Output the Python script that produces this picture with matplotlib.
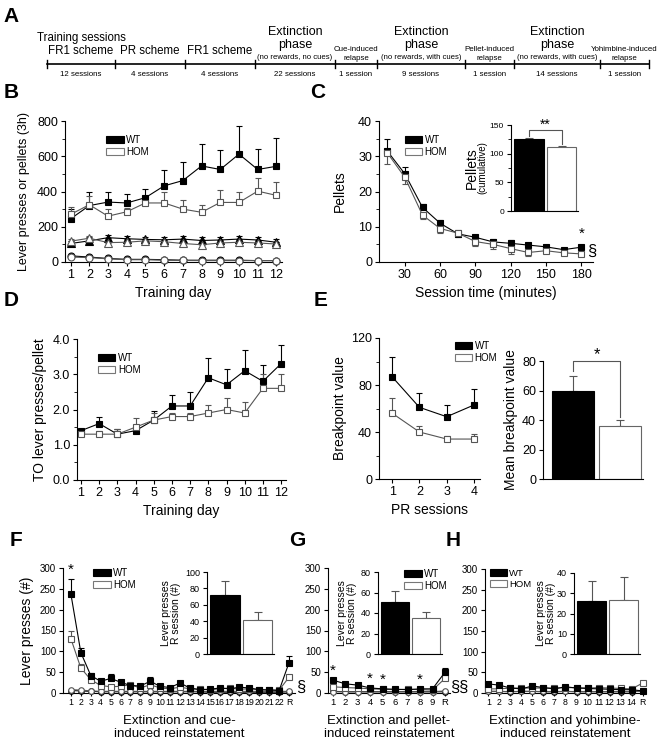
import numpy as np
import matplotlib
matplotlib.use('Agg')
import matplotlib.pyplot as plt
from matplotlib.patches import Patch

plt.rcParams['font.family'] = ['Liberation Sans', 'DejaVu Sans']

W, H = 662, 739

# ---- panel A: protocol timeline
phase_labels = ['Training sessions\nFR1 scheme', 'PR scheme', 'FR1 scheme',
                'Extinction\nphase', 'Cue-induced\nrelapse', 'Extinction\nphase',
                'Pellet-induced\nrelapse', 'Extinction\nphase', 'Yohimbine-induced\nrelapse']
phase_notes = ['', '', '', '(no rewards, no cues)', '', '(no rewards, with cues)',
               '', '(no rewards, with cues)', '']
session_labels = ['12 sessions', '4 sessions', '4 sessions', '22 sessions', '1 session',
                  '9 sessions', '1 session', '14 sessions', '1 session']

# ---- panel B
days = list(range(1, 13))
b_wt_press = [245, 320, 340, 335, 365, 432, 462, 545, 525, 612, 525, 543]
b_wt_press_err = [55, 80, 55, 50, 50, 90, 108, 125, 110, 158, 117, 162]
b_hom_press = [270, 325, 260, 285, 335, 335, 300, 282, 338, 338, 402, 378]
b_hom_press_err = [40, 50, 40, 20, 20, 60, 50, 43, 72, 57, 76, 74]
b_wt_pellets = [105, 120, 138, 132, 128, 126, 130, 122, 125, 130, 125, 112]
b_wt_pellets_err = [15, 20, 18, 15, 12, 15, 15, 18, 15, 18, 15, 20]
b_hom_pellets = [118, 135, 110, 112, 120, 115, 105, 98, 108, 112, 108, 102]
b_hom_pellets_err = [10, 15, 12, 10, 10, 10, 10, 10, 10, 10, 10, 10]
b_wt_inactive = [35, 28, 20, 15, 15, 13, 10, 10, 10, 10, 8, 8]
b_hom_inactive = [28, 25, 18, 13, 13, 10, 9, 8, 8, 8, 8, 8]

# ---- panel C
c_time = [15, 30, 45, 60, 75, 90, 105, 120, 135, 150, 165, 180]
c_wt = [31.5, 25, 15.5, 11, 8, 7, 5.7, 5.3, 4.8, 4.3, 3.5, 4.2]
c_wt_err = [3.5, 2, 1, 0.8, 1, 0.8, 0.7, 0.8, 0.7, 0.5, 0.5, 0.5]
c_hom = [31, 24, 13.3, 9.5, 8.2, 5.8, 5, 3.8, 2.7, 3.2, 2.6, 2.3]
c_hom_err = [3.3, 2, 1.2, 1.2, 1, 1.2, 1.2, 1.4, 1, 0.5, 0.5, 0.5]
c_cum = [125, 111]
c_cum_err = [3, 3]

# ---- panel D
d_wt = [1.4, 1.6, 1.3, 1.4, 1.7, 2.1, 2.1, 2.9, 2.7, 3.1, 2.8, 3.3]
d_wt_err = [0.05, 0.18, 0.15, 0.1, 0.25, 0.3, 0.4, 0.55, 0.45, 0.6, 0.47, 0.53]
d_hom = [1.3, 1.3, 1.3, 1.5, 1.7, 1.8, 1.8, 1.9, 2.0, 1.9, 2.6, 2.6]
d_hom_err = [0.05, 0.1, 0.15, 0.25, 0.2, 0.1, 0.1, 0.23, 0.32, 0.3, 0.4, 0.4]

# ---- panel E
pr_sessions = [1, 2, 3, 4]
e_wt = [87, 61, 53, 63]
e_wt_err = [17, 12, 10, 14]
e_hom = [56, 40, 34, 34]
e_hom_err = [13, 5, 3, 4]
e_mean = [60, 36]
e_mean_err = [9.5, 4]

# ---- panel F (extinction + cue)
f_labels = [str(i) for i in range(1, 23)] + ['R']
f_wt = [237, 97, 42, 28, 35, 26, 18, 17, 28, 16, 13, 24, 12, 8, 9, 12, 10, 14, 12, 8, 7, 6, 73]
f_wt_err = [37, 12, 7, 4, 10, 4, 4, 3, 10, 3, 3, 6, 3, 2, 2, 3, 3, 3, 3, 2, 2, 2, 17]
f_hom = [130, 60, 32, 18, 15, 16, 20, 12, 20, 12, 10, 14, 10, 9, 8, 10, 12, 9, 10, 8, 8, 7, 38]
f_hom_err = [20, 10, 5, 3, 3, 3, 5, 3, 5, 3, 3, 3, 2, 2, 2, 2, 3, 2, 2, 2, 2, 2, 5]
f_wt_inact = [6, 5, 4, 3, 3, 3, 3, 3, 3, 3, 3, 3, 3, 3, 2, 2, 2, 2, 2, 2, 2, 2, 3]
f_hom_inact = [8, 7, 5, 4, 4, 4, 4, 4, 4, 4, 4, 4, 4, 4, 4, 4, 4, 4, 4, 4, 4, 4, 4]
f_bars = [72, 41]
f_bars_err = [17, 10]

# ---- panel G (extinction + pellet)
g_labels = [str(i) for i in range(1, 10)] + ['R']
g_wt = [31, 22, 19, 12, 10, 9, 8, 10, 10, 50]
g_wt_err = [3, 2, 2, 2, 2, 1, 1, 2, 2, 11]
g_hom = [15, 13, 12, 10, 9, 8, 9, 8, 7, 35]
g_hom_err = [2, 2, 2, 2, 1, 1, 1, 1, 1, 5]
g_wt_inact = [4, 3, 3, 3, 3, 3, 3, 3, 3, 3]
g_hom_inact = [3, 3, 3, 3, 3, 3, 3, 3, 3, 5]
g_bars = [51, 35]
g_bars_err = [10, 5.5]

# ---- panel H (extinction + yohimbine)
h_labels = [str(i) for i in range(1, 15)] + ['R']
h_wt = [22, 19, 12, 10, 17, 13, 10, 15, 12, 11, 10, 9, 8, 8, 5]
h_wt_err = [2, 2, 2, 1, 2, 1, 1, 2, 1, 1, 1, 1, 1, 1, 1]
h_hom = [10, 10, 12, 12, 12, 12, 12, 13, 13, 12, 13, 12, 11, 10, 24]
h_hom_err = [2, 2, 2, 2, 2, 2, 2, 2, 2, 2, 2, 2, 2, 2, 6]
h_wt_inact = [4, 4, 3, 4, 4, 3, 3, 4, 3, 3, 3, 3, 3, 3, 6]
h_hom_inact = [5, 5, 5, 5, 5, 5, 5, 5, 5, 5, 5, 5, 5, 5, 5]
h_bars = [26, 26.5]
h_bars_err = [10, 11.5]

GREY = '#555555'


def box(l, t, r, b):
    return [l / W, 1 - b / H, (r - l) / W, (b - t) / H]


def style(ax, fs=9):
    for s in ['top', 'right']:
        ax.spines[s].set_visible(False)
    for s in ['left', 'bottom']:
        ax.spines[s].set_linewidth(0.8)
    ax.tick_params(direction='out', length=3, width=0.8, labelsize=fs, pad=2)
    ax.tick_params(which='minor', direction='out', length=2, width=0.6)


def series(ax, x, y, err, filled, marker='s', ms=5, down=False):
    color = 'black' if filled else GREY
    mfc = 'black' if filled else 'white'
    if err is not None:
        z = np.zeros(len(err))
        yerr = [err, z] if down else [z, err]
        ax.errorbar(x, y, yerr=yerr, fmt='none', ecolor=color, elinewidth=0.8,
                    capsize=2, capthick=0.8, zorder=2, clip_on=False)
    ax.plot(x, y, color=color, lw=0.8, marker=marker, ms=ms, mfc=mfc, mec=color,
            mew=0.8, zorder=3, clip_on=False)


def legend(ax, x, y, fs=7):
    handles = [Patch(facecolor='black', edgecolor='black', lw=0.8),
               Patch(facecolor='white', edgecolor='#777777', lw=0.8)]
    ax.legend(handles, ['WT', 'HOM'], loc='upper left', bbox_to_anchor=(x, y),
              frameon=False, fontsize=fs, handlelength=1.8, handleheight=0.75,
              handletextpad=0.25, labelspacing=0.2, borderpad=0, borderaxespad=0)


def bars(rect, vals, errs, ylim, yticks, fs=6.5):
    ax = fig.add_axes(rect)
    ax.patch.set_alpha(0)
    ax.bar([0, 1], vals, width=0.9, color=['black', 'white'],
           edgecolor=['black', '#666666'], linewidth=0.8, zorder=2)
    ax.errorbar([0, 1], vals, yerr=[[0, 0], errs], fmt='none', ecolor=GREY,
                elinewidth=0.8, capsize=3, capthick=0.8, zorder=1)
    style(ax, fs)
    ax.set_xlim(-0.55, 1.5)
    ax.set_ylim(*ylim)
    ax.set_yticks(yticks)
    ax.set_xticks([])
    return ax


fig = plt.figure(figsize=(W / 100, H / 100), dpi=100)

# ---------------- A
axa = fig.add_axes([0, 0, 1, 1])
axa.set_xlim(0, W)
axa.set_ylim(H, 0)
axa.axis('off')
a_ticks = [47, 115, 185, 255, 335, 377, 465, 514, 600, 649]
line_y = 64
axa.plot([a_ticks[0], a_ticks[-1]], [line_y, line_y], color='black', lw=1.2)
for t in a_ticks:
    axa.plot([t, t], [line_y - 4, line_y + 4], color='black', lw=1)
for i, (lab, note, ses) in enumerate(zip(phase_labels, phase_notes, session_labels)):
    cx = (a_ticks[i] + a_ticks[i + 1]) / 2
    axa.text(cx, line_y + 10, ses, ha='center', va='center', fontsize=5.7)
    if 'relapse' in lab:
        axa.text(cx, 54, lab, ha='center', va='center', fontsize=5.7, linespacing=1.3)
    elif note:
        axa.text(cx, 38.5, lab, ha='center', va='center', fontsize=9, linespacing=1.05)
        axa.text(cx, 57.5, note, ha='center', va='center', fontsize=5.6)
    else:
        axa.text(cx, 44.5 if '\n' in lab else 51, lab, ha='center', va='center',
                 fontsize=8.3, linespacing=1.1)

for letter, (lx, ly) in zip('ABCDEFGH', [(11, 17), (11, 92), (318, 92), (11, 300),
                                          (321, 300), (16, 540), (297, 540), (453, 540)]):
    axa.text(lx, ly, letter, ha='center', va='center', fontsize=15, fontweight='bold')

# ---------------- B
axb = fig.add_axes(box(65, 121, 282, 262))
series(axb, days, b_wt_inactive, None, True, marker='o')
series(axb, days, b_hom_inactive, None, False, marker='o')
series(axb, days, b_wt_pellets, b_wt_pellets_err, True, marker='^', ms=5.5)
series(axb, days, b_hom_pellets, b_hom_pellets_err, False, marker='^', ms=5.5)
series(axb, days, b_wt_press, b_wt_press_err, True)
series(axb, days, b_hom_press, b_hom_press_err, False)
style(axb)
axb.set_xlim(0.7, 12.3)
axb.set_ylim(0, 800)
axb.set_xticks(days)
axb.set_yticks([0, 200, 400, 600, 800])
axb.set_yticks([100, 300, 500, 700], minor=True)
axb.set_xlabel('Training day', fontsize=10, labelpad=4)
axb.set_ylabel('Lever presses or pellets (3h)', fontsize=9, labelpad=5)
legend(axb, 0.19, 0.9)

# ---------------- C
axc = fig.add_axes(box(379, 121, 593, 262))
series(axc, c_time, c_wt, c_wt_err, True)
series(axc, c_time, c_hom, c_hom_err, False, down=True)
style(axc)
axc.set_xlim(8, 190)
axc.set_ylim(0, 40)
axc.set_xticks([30, 60, 90, 120, 150, 180])
axc.set_yticks([0, 10, 20, 30, 40])
axc.set_yticks([5, 15, 25, 35], minor=True)
axc.set_xlabel('Session time (minutes)', fontsize=10, labelpad=4)
axc.set_ylabel('Pellets', fontsize=10, labelpad=8)
axc.text(180, 6.0, '*', ha='center', va='bottom', fontsize=11)
axc.text(185, 3, '§', ha='left', va='center', fontsize=12, clip_on=False)
legend(axc, 0.12, 0.9)

axci = bars(box(511, 125, 578, 211), c_cum, c_cum_err, (0, 150), [0, 50, 100, 150], fs=6)
axci.set_yticks([25, 75, 125], minor=True)
axci.plot([0, 0, 1, 1], [131, 141, 141, 117], color=GREY, lw=0.8, clip_on=False)
axci.text(0.5, 139, '**', ha='center', va='bottom', fontsize=10)
axci.text(-0.58, 0.5, 'Pellets', transform=axci.transAxes, rotation=90, ha='center',
          va='center', fontsize=10)
axci.text(-0.42, 0.5, '(cumulative)', transform=axci.transAxes, rotation=90,
          ha='center', va='center', fontsize=7)

# ---------------- D
axd = fig.add_axes(box(77, 339, 286, 480))
series(axd, days, d_wt, d_wt_err, True)
series(axd, days, d_hom, d_hom_err, False)
style(axd)
axd.set_xlim(0.78, 12.27)
axd.set_ylim(0, 4)
axd.set_xticks(days)
axd.set_yticks([0, 1, 2, 3, 4])
axd.set_yticklabels(['0.0', '1.0', '2.0', '3.0', '4.0'])
axd.set_yticks([0.5, 1.5, 2.5, 3.5], minor=True)
axd.set_xlabel('Training day', fontsize=10, labelpad=4)
axd.set_ylabel('TO lever presses/pellet', fontsize=10, labelpad=4)
legend(axd, 0.1, 0.9)

# ---------------- E
axe = fig.add_axes(box(379, 338, 480, 479))
series(axe, pr_sessions, e_wt, e_wt_err, True)
series(axe, pr_sessions, e_hom, e_hom_err, False)
style(axe)
axe.set_xlim(0.52, 4.22)
axe.set_ylim(0, 120)
axe.set_xticks(pr_sessions)
axe.set_yticks([0, 40, 80, 120])
axe.set_yticks([20, 60, 100], minor=True)
axe.set_xlabel('PR sessions', fontsize=10, labelpad=4)
axe.set_ylabel('Breakpoint value', fontsize=10, labelpad=3)
legend(axe, 0.75, 0.98)

axe2 = bars(box(543, 361, 643, 479), e_mean, e_mean_err, (0, 80), [0, 20, 40, 60, 80], fs=9)
axe2.set_xlim(-0.64, 1.49)
axe2.plot([0, 0, 1, 1], [73, 80, 80, 42], color=GREY, lw=0.8, clip_on=False)
axe2.text(0.5, 79.5, '*', ha='center', va='bottom', fontsize=12)
axe2.set_ylabel('Mean breakpoint value', fontsize=10, labelpad=3)


# ---------------- F, G, H
def extinction(rect, labels, wt, wt_err, hom, hom_err, wt_in, hom_in, xlim, fs=6.5):
    ax = fig.add_axes(rect)
    x = np.arange(1, len(labels) + 1)
    series(ax, x, wt_in, None, True, marker='o', ms=4)
    series(ax, x, hom_in, None, False, marker='o', ms=4)
    series(ax, x, hom, hom_err, False, ms=4.5)
    series(ax, x, wt, wt_err, True, ms=4.5)
    style(ax, 7)
    ax.tick_params(axis='x', labelsize=fs, length=2, pad=1.5)
    ax.set_xlim(*xlim)
    ax.set_ylim(0, 300)
    ax.set_xticks(x)
    ax.set_xticklabels(labels)
    ax.set_yticks([0, 50, 100, 150, 200, 250, 300])
    return ax


axf = extinction(box(63, 568, 295, 693), f_labels, f_wt, f_wt_err, f_hom, f_hom_err,
                 f_wt_inact, f_hom_inact, (0.2, 23.6), fs=6.3)
axf.set_ylabel('Lever presses (#)', fontsize=10, labelpad=4)
axf.set_xlabel('Extinction and cue-\ninduced reinstatement', fontsize=9.5, labelpad=6,
               linespacing=1.1)
axf.text(1, 280, '*', ha='center', va='bottom', fontsize=11)
axf.text(23.75, 14, '§', ha='left', va='center', fontsize=12, clip_on=False)
legend(axf, 0.13, 1.0)
axfi = bars(box(207, 572, 274, 654), f_bars, f_bars_err, (0, 100), [0, 20, 40, 60, 80, 100])
axfi.set_ylabel('Lever presses\nR session (#)', fontsize=7.5, labelpad=3, linespacing=1.0)

axg = extinction(box(328, 568, 450, 693), g_labels, g_wt, g_wt_err, g_hom, g_hom_err,
                 g_wt_inact, g_hom_inact, (0.62, 10.4), fs=6.8)
axg.set_xlabel('Extinction and pellet-\ninduced reinstatement', fontsize=9.5, labelpad=6,
               linespacing=1.1)
for sx, sy in [(1, 36), (4, 18), (5, 16), (8, 16)]:
    axg.text(sx, sy, '*', ha='center', va='bottom', fontsize=11)
axg.text(10.4, 14, '§§', ha='left', va='center', fontsize=12, clip_on=False)
axgi = bars(box(378, 572, 442, 654), g_bars, g_bars_err, (0, 80), [0, 20, 40, 60, 80])
axgi.set_ylabel('Lever presses\nR session (#)', fontsize=7.5, labelpad=3, linespacing=1.0)
legend(axgi, 0.41, 1.04)

axh = extinction(box(485, 569, 645, 693), h_labels, h_wt, h_wt_err, h_hom, h_hom_err,
                 h_wt_inact, h_hom_inact, (0.7, 15.21), fs=6.3)
axh.set_xlabel('Extinction and yohimbine-\ninduced reinstatement', fontsize=9.5, labelpad=6,
               linespacing=1.1)
legend(axh, 0.03, 1.0, fs=6.8)
axhi = bars(box(574, 573, 640, 654), h_bars, h_bars_err, (0, 40), [0, 10, 20, 30, 40])
axhi.set_ylabel('Lever presses\nR session (#)', fontsize=7.5, labelpad=1, linespacing=1.0)

fig.savefig('out.png', dpi=100)
